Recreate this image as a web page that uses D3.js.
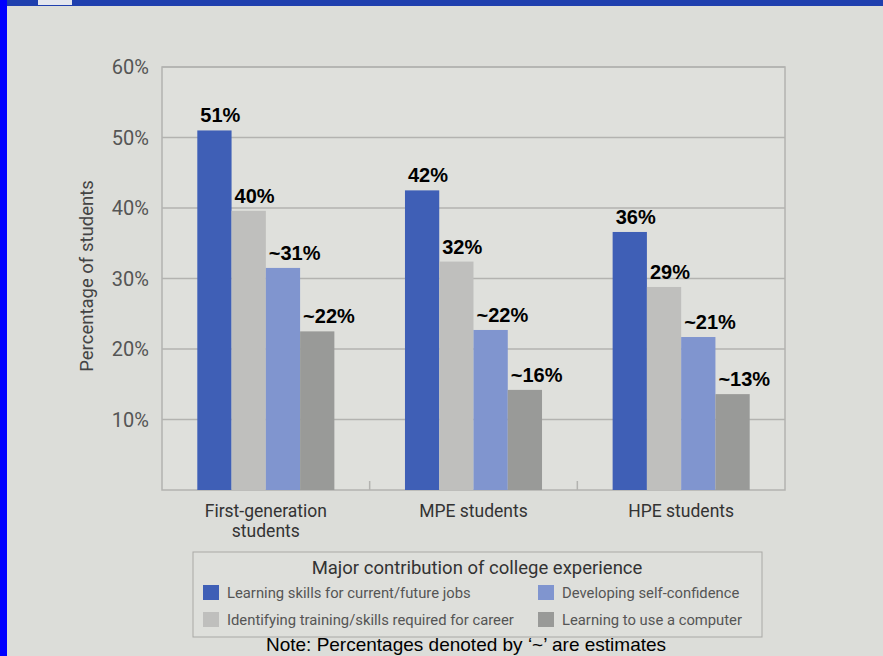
<!DOCTYPE html>
<html><head><meta charset="utf-8">
<script src="https://cdn.jsdelivr.net/npm/d3@7"></script>
<style>
html,body{margin:0;padding:0;background:#dcddd9;}
svg{display:block;}
</style></head>
<body>
<svg id="chart" width="883" height="656"></svg>
<script>
const categories = [["First-generation","students"],["MPE students"],["HPE students"]];
const seriesNames = ["Learning skills for current/future jobs","Identifying training/skills required for career","Developing self-confidence","Learning to use a computer"];
const seriesColors = ["#3f5fb6","#bfbfbd","#8095cf","#999a98"];
const values = [
  [51, 39.6, 31.5, 22.5],
  [42.5, 32.4, 22.7, 14.2],
  [36.6, 28.8, 21.7, 13.6]
];
const valueLabels = [
  ["51%","40%","~31%","~22%"],
  ["42%","32%","~22%","~16%"],
  ["36%","29%","~21%","~13%"]
];
const yTicks = [10,20,30,40,50,60];
const yTickLabels = ["10%","20%","30%","40%","50%","60%"];

const svg = d3.select("#chart");
const W = 883, H = 656;
svg.append("rect").attr("width",W).attr("height",H).attr("fill","#dcddd9");
svg.append("rect").attr("x",0).attr("y",0).attr("width",W).attr("height",6).attr("fill","#1f3fae");
svg.append("rect").attr("x",38).attr("y",0).attr("width",34).attr("height",5).attr("fill","#e4e6ee");
svg.append("rect").attr("x",0).attr("y",0).attr("width",7).attr("height",H).attr("fill","#0000ff");

const plot = {left:162, top:67, right:785, bottom:490};
const x0 = d3.scaleBand().domain(d3.range(categories.length)).range([plot.left, plot.right]).paddingInner(0.34).paddingOuter(0.17);
const x1 = d3.scaleBand().domain(d3.range(seriesNames.length)).range([0, x0.bandwidth()]);
const y = d3.scaleLinear().domain([0,60]).range([plot.bottom, plot.top]);

svg.append("rect").attr("x",plot.left).attr("y",plot.top).attr("width",plot.right-plot.left).attr("height",plot.bottom-plot.top)
  .attr("fill","#dfe0dc").attr("stroke","#b3b3b0").attr("stroke-width",1.5);

svg.append("g").selectAll("line").data(yTicks).join("line")
  .attr("x1",plot.left).attr("x2",plot.right)
  .attr("y1",d=>y(d)).attr("y2",d=>y(d))
  .attr("stroke","#b3b3b0").attr("stroke-width",1.5);

svg.append("g").selectAll("text").data(yTicks).join("text")
  .attr("x",plot.left-13).attr("y",d=>y(d)).attr("dy","0.35em")
  .attr("text-anchor","end").attr("font-family","Roboto, sans-serif").attr("font-size",20)
  .attr("fill","#555").text((d,i)=>yTickLabels[i]);

svg.append("text").attr("transform","translate(93,276) rotate(-90)")
  .attr("text-anchor","middle").attr("font-family","Roboto, sans-serif").attr("font-size",18.5)
  .attr("fill","#444").text("Percentage of students");

const seps = d3.range(1,categories.length).map(i => (x0(i-1)+x0.bandwidth()+x0(i))/2);
svg.append("g").selectAll("line").data(seps).join("line")
  .attr("x1",d=>d).attr("x2",d=>d).attr("y1",plot.bottom-9).attr("y2",plot.bottom)
  .attr("stroke","#b3b3b0").attr("stroke-width",1.5);

const groups = svg.append("g").selectAll("g").data(values).join("g")
  .attr("transform",(d,i)=>`translate(${x0(i)},0)`);
groups.selectAll("rect").data(d=>d).join("rect")
  .attr("x",(d,j)=>x1(j)).attr("width",x1.bandwidth())
  .attr("y",d=>y(d)).attr("height",d=>plot.bottom-y(d))
  .attr("fill",(d,j)=>seriesColors[j]);
groups.each(function(d,i){
  d3.select(this).selectAll("text").data(d).join("text")
    .attr("x",(v,j)=>x1(j)+3).attr("y",v=>y(v)-8)
    .attr("font-family","Liberation Sans, Arial, sans-serif").attr("font-weight","bold").attr("font-size",20)
    .attr("fill","#000").text((v,j)=>valueLabels[i][j]);
});

// x category labels, one text per line
const xLines = [];
categories.forEach((lines,i)=>lines.forEach((t,k)=>xLines.push({i,k,t})));
svg.append("g").selectAll("text").data(xLines).join("text")
  .attr("x",d=>x0(d.i)+x0.bandwidth()/2).attr("y",d=>517+d.k*20)
  .attr("text-anchor","middle").attr("font-family","Roboto, sans-serif").attr("font-size",17.5)
  .attr("fill","#333").text(d=>d.t);

const lg = svg.append("g");
lg.append("rect").attr("x",193).attr("y",552).attr("width",569).attr("height",85)
  .attr("fill","#dedfdb").attr("stroke","#a9a9a6").attr("stroke-width",1);
lg.append("text").attr("x",477).attr("y",574).attr("text-anchor","middle")
  .attr("font-family","Roboto, sans-serif").attr("font-size",18.5).attr("fill","#333")
  .text("Major contribution of college experience");
const legPos = [[203,585],[203,612],[538,585],[538,612]];
const li = lg.selectAll("g.item").data(seriesNames).join("g").attr("class","item")
  .attr("transform",(d,i)=>`translate(${legPos[i][0]},${legPos[i][1]})`);
li.append("rect").attr("width",16).attr("height",15).attr("fill",(d,i)=>seriesColors[i]);
li.append("text").attr("x",24).attr("y",8).attr("dy","0.35em")
  .attr("font-family","Roboto, sans-serif").attr("font-size",14.8).attr("fill","#555").text(d=>d);

svg.append("text").attr("x",466).attr("y",651).attr("text-anchor","middle")
  .attr("font-family","Liberation Sans, Arial, sans-serif").attr("font-size",19).attr("fill","#000")
  .text("Note: Percentages denoted by \u2018~\u2019 are estimates");
</script>
</body></html>
